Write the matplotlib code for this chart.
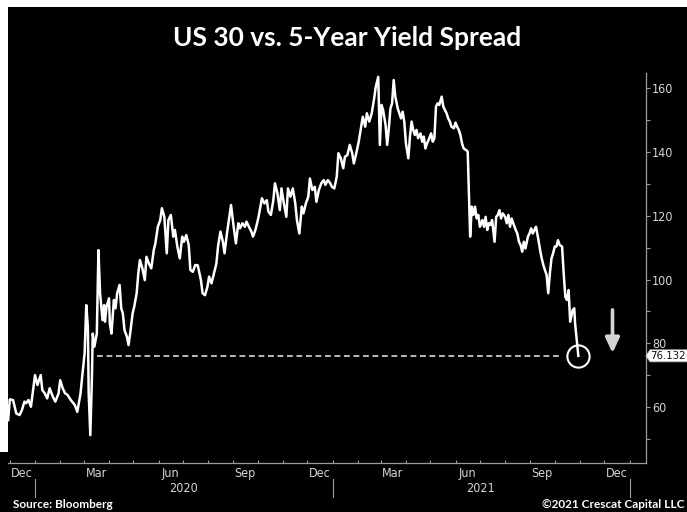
import matplotlib
matplotlib.use("Agg")
import matplotlib.pyplot as plt
import matplotlib.dates as mdates
import matplotlib.transforms as mtransforms
from matplotlib.patches import Polygon, Rectangle
import pandas as pd

# ---- data: US 30y minus 5y Treasury yield spread (bp) ----
dates = [
    "2019-11-29", "2019-12-01", "2019-12-05", "2019-12-09", "2019-12-13", "2019-12-16", "2019-12-19", "2019-12-21", "2019-12-24", "2019-12-27",
    "2020-01-01", "2020-01-04", "2020-01-08", "2020-01-10", "2020-01-13", "2020-01-16", "2020-01-19", "2020-01-23", "2020-01-26", "2020-01-30",
    "2020-02-01", "2020-02-04", "2020-02-07", "2020-02-10", "2020-02-14", "2020-02-19", "2020-02-22", "2020-02-26", "2020-02-28",
    "2020-03-02", "2020-03-04", "2020-03-06", "2020-03-07", "2020-03-09", "2020-03-11", "2020-03-12", "2020-03-14", "2020-03-17", "2020-03-19", "2020-03-21", "2020-03-24", "2020-03-26", "2020-03-27", "2020-03-29",
    "2020-04-01", "2020-04-02", "2020-04-04", "2020-04-07", "2020-04-09", "2020-04-11", "2020-04-14", "2020-04-16", "2020-04-18", "2020-04-20", "2020-04-23", "2020-04-25", "2020-04-27", "2020-04-30",
    "2020-05-02", "2020-05-05", "2020-05-07", "2020-05-09", "2020-05-12", "2020-05-15", "2020-05-17", "2020-05-20", "2020-05-23", "2020-05-26", "2020-05-28", "2020-05-31",
    "2020-06-03", "2020-06-05", "2020-06-08", "2020-06-11", "2020-06-13", "2020-06-16", "2020-06-19", "2020-06-21", "2020-06-24", "2020-06-27", "2020-06-30",
    "2020-07-02", "2020-07-05", "2020-07-08", "2020-07-10", "2020-07-13", "2020-07-16", "2020-07-19", "2020-07-23", "2020-07-25", "2020-07-28", "2020-07-31",
    "2020-08-02", "2020-08-05", "2020-08-08", "2020-08-11", "2020-08-13", "2020-08-16", "2020-08-19", "2020-08-21", "2020-08-24", "2020-08-27", "2020-08-29",
    "2020-09-01", "2020-09-04", "2020-09-07", "2020-09-09", "2020-09-12", "2020-09-15", "2020-09-17", "2020-09-20", "2020-09-23", "2020-09-25", "2020-09-28",
    "2020-10-01", "2020-10-03", "2020-10-06", "2020-10-09", "2020-10-12", "2020-10-14", "2020-10-17", "2020-10-20", "2020-10-22", "2020-10-25", "2020-10-28", "2020-10-30",
    "2020-11-02", "2020-11-05", "2020-11-07", "2020-11-10", "2020-11-13", "2020-11-16", "2020-11-18", "2020-11-21", "2020-11-24", "2020-11-26", "2020-11-29",
    "2020-12-02", "2020-12-04", "2020-12-07", "2020-12-10", "2020-12-12", "2020-12-15", "2020-12-18", "2020-12-21", "2020-12-23", "2020-12-26", "2020-12-29", "2020-12-31",
    "2021-01-03", "2021-01-06", "2021-01-08", "2021-01-11", "2021-01-14", "2021-01-16", "2021-01-19", "2021-01-22", "2021-01-25", "2021-01-27", "2021-01-30",
    "2021-02-02", "2021-02-04", "2021-02-07", "2021-02-10", "2021-02-12", "2021-02-15", "2021-02-18", "2021-02-21", "2021-02-23", "2021-02-26", "2021-02-28",
    "2021-03-02", "2021-03-04", "2021-03-07", "2021-03-09", "2021-03-11", "2021-03-13", "2021-03-15", "2021-03-17", "2021-03-19", "2021-03-22", "2021-03-24", "2021-03-26", "2021-03-28", "2021-03-30",
    "2021-04-01", "2021-04-04", "2021-04-06", "2021-04-08", "2021-04-10", "2021-04-12", "2021-04-14", "2021-04-16", "2021-04-19", "2021-04-21", "2021-04-23", "2021-04-25", "2021-04-27", "2021-04-29",
    "2021-05-02", "2021-05-04", "2021-05-06", "2021-05-08", "2021-05-10", "2021-05-12", "2021-05-15", "2021-05-17", "2021-05-19", "2021-05-21", "2021-05-23", "2021-05-25", "2021-05-27", "2021-05-30",
    "2021-06-01", "2021-06-03", "2021-06-05", "2021-06-07", "2021-06-09", "2021-06-11", "2021-06-14", "2021-06-16", "2021-06-19", "2021-06-21", "2021-06-23", "2021-06-25", "2021-06-27", "2021-06-29",
    "2021-07-01", "2021-07-04", "2021-07-06", "2021-07-08", "2021-07-10", "2021-07-12", "2021-07-14", "2021-07-16", "2021-07-19", "2021-07-21", "2021-07-23", "2021-07-25", "2021-07-27", "2021-07-29",
    "2021-08-01", "2021-08-03", "2021-08-05", "2021-08-07", "2021-08-09", "2021-08-11", "2021-08-14", "2021-08-16", "2021-08-18", "2021-08-20", "2021-08-22", "2021-08-24", "2021-08-26", "2021-08-29", "2021-08-31",
    "2021-09-02", "2021-09-04", "2021-09-06", "2021-09-08", "2021-09-11", "2021-09-13", "2021-09-15", "2021-09-17", "2021-09-19", "2021-09-21", "2021-09-23", "2021-09-25", "2021-09-27", "2021-09-29",
    "2021-10-01", "2021-10-03", "2021-10-05", "2021-10-07", "2021-10-10", "2021-10-12", "2021-10-14", "2021-10-16", "2021-10-18", "2021-10-20", "2021-10-23", "2021-10-25", "2021-10-26", "2021-10-30",
]

spread_bp = [
    56.0, 62.5, 62.3, 58.1, 57.6, 59.2, 61.8, 61.3, 62.3, 60.2,
    70.1, 67.0, 70.1, 65.4, 64.4, 62.8, 66.0, 63.3, 61.8, 64.4,
    68.5, 66.0, 64.4, 63.9, 62.3, 60.7, 58.6, 64.4, 69.6,
    76.9, 92.0, 85.2, 64.4, 51.3, 69.6, 83.1, 79.0, 83.1, 109.2, 95.7, 87.3, 92.0, 86.8, 91.5,
    94.1, 86.3, 83.1, 93.6, 91.0, 95.7, 98.3, 91.0, 89.4, 84.2, 82.1, 79.5, 83.1, 89.4,
    91.5, 95.7, 101.9, 106.1, 103.5, 99.8, 107.1, 105.0, 103.5, 109.2, 111.3, 116.5,
    118.6, 122.3, 119.6, 108.2, 118.6, 120.2, 113.4, 115.5, 110.3, 106.6, 113.4,
    111.8, 113.9, 110.8, 103.0, 102.4, 104.5, 104.5, 99.8, 95.7, 95.1, 97.7,
    100.9, 98.8, 101.9, 105.0, 110.3, 115.0, 111.8, 108.2, 114.4, 119.6, 123.3,
    117.0, 111.3, 117.6, 116.0, 117.6, 116.5, 118.1, 116.5, 115.0, 113.4, 115.5,
    118.6, 121.2, 125.4, 123.8, 124.8, 121.2, 120.2, 124.8, 130.1, 127.0, 121.7, 128.5,
    123.8, 119.6, 128.5, 125.9, 128.5, 123.8, 118.6, 114.4, 122.8, 120.7, 123.8,
    125.9, 131.6, 128.0, 129.0, 124.3, 128.0, 130.1, 131.1, 129.6, 131.1, 130.1, 129.0,
    128.5, 132.2, 139.5, 137.9, 134.8, 138.4, 138.9, 142.1, 139.5, 136.3, 139.5,
    143.1, 146.2, 150.9, 147.8, 152.0, 149.4, 152.0, 156.7, 160.3, 163.4, 142.1,
    154.6, 153.0, 148.3, 142.1, 147.3, 153.5, 155.1, 162.4, 157.2, 153.5, 152.0, 150.4, 152.5, 149.4,
    142.6, 137.9, 144.7, 149.4, 146.8, 145.2, 146.8, 144.2, 145.7, 143.1, 144.7, 141.0, 142.6, 143.7,
    145.7, 143.1, 144.2, 154.1, 155.1, 154.6, 157.2, 154.1, 153.0, 152.0, 150.4, 149.4, 147.8, 147.3,
    149.1, 147.8, 146.8, 145.2, 142.6, 141.0, 140.5, 140.0, 113.4, 122.8, 120.2, 122.8, 119.1, 120.2,
    116.5, 118.6, 116.5, 119.6, 115.5, 117.6, 117.1, 118.6, 111.8, 119.6, 120.2, 121.7, 119.1, 120.7,
    119.6, 117.6, 120.2, 116.5, 119.1, 117.6, 115.5, 114.4, 111.8, 110.8, 108.7, 111.8, 109.7, 113.4, 114.4,
    116.0, 114.4, 115.5, 116.5, 112.3, 109.2, 106.6, 104.5, 103.0, 101.4, 95.7, 101.9, 106.6, 108.2,
    110.3, 110.3, 112.3, 110.8, 110.3, 101.9, 94.6, 93.6, 96.7, 86.8, 90.4, 91.0, 86.3, 76.132,
]

last_value = 76.132
level_line_start = "2020-03-17"
level_line_end = "2021-10-08"

y_major = [60, 80, 100, 120, 140, 160]
y_minor = [50, 70, 90, 110, 130, 150]
month_labels = ["Dec", "Mar", "Jun", "Sep", "Dec", "Mar", "Jun", "Sep", "Dec"]
month_label_dates = ["2019-12-16", "2020-03-16", "2020-06-15", "2020-09-15", "2020-12-16",
                     "2021-03-16", "2021-06-15", "2021-09-15", "2021-12-16"]
year_labels = ["2020", "2021"]
year_label_dates = ["2020-07-01", "2021-07-02"]
year_bounds = ["2020-01-01", "2021-01-01", "2022-01-01"]

title = "US 30 vs. 5-Year Yield Spread"
source_note = "Source: Bloomberg"
credit_note = "\u00a92021 Crescat Capital LLC"

# ---- figure layout (pixel based) ----
W, H = 687, 512
BG = "black"
AXIS_GREY = "#9c9c9c"
LABEL_GREY = "#d6d6d6"
NARROW = dict(family="DejaVu Sans", fontstretch="condensed")
BOLD_SANS = ["Lato", "DejaVu Sans"]


def fx(px):
    return px / W


def fy(py):
    return 1 - py / H


fig = plt.figure(figsize=(W / 100, H / 100), dpi=100, facecolor=BG)

# thin light frame along the top and left edges of the page
fig.patches.append(Rectangle((0, fy(7)), 1, 1 - fy(7), transform=fig.transFigure,
                             facecolor="white", edgecolor="none", zorder=0))
fig.patches.append(Rectangle((0, fy(452)), fx(8), fy(0) - fy(452), transform=fig.transFigure,
                             facecolor="white", edgecolor="none", zorder=0))

left_px, right_px, top_px, bottom_px = 8, 646, 73, 463
ax = fig.add_axes([fx(left_px), fy(bottom_px), fx(right_px) - fx(left_px), fy(top_px) - fy(bottom_px)])
ax.set_facecolor(BG)

x = pd.to_datetime(dates)
ax.plot(x, spread_bp, color="white", lw=1.8, solid_joinstyle="round", zorder=3)

jan2020 = mdates.date2num(pd.Timestamp("2020-01-01"))
ax.set_xlim(jan2020 - 33.2, jan2020 + 751.2)
ax.set_ylim(42.6, 164.6)
ax_h_px = bottom_px - top_px

# spines
for side in ("left", "top"):
    ax.spines[side].set_visible(False)
for side in ("right", "bottom"):
    ax.spines[side].set_color(AXIS_GREY)
    ax.spines[side].set_linewidth(0.9)

# y axis on the right
ax.yaxis.tick_right()
ax.set_yticks(y_major)
ax.set_yticklabels([str(v) for v in y_major], **NARROW)
ax.set_yticks(y_minor, minor=True)
ax.tick_params(axis="y", which="both", direction="out", length=3, width=0.8,
               color=AXIS_GREY, labelcolor=LABEL_GREY, labelsize=9, pad=1.5)

# x axis: month boundary ticks, quarter-month labels
month_starts = pd.date_range("2019-12-01", "2022-01-01", freq="MS")
ax.set_xticks(month_starts)
ax.set_xticklabels([""] * len(month_starts))
ax.set_xticks(pd.to_datetime(month_label_dates), minor=True)
ax.set_xticklabels(month_labels, minor=True, **NARROW)
ax.tick_params(axis="x", which="major", direction="in", length=2.5, width=0.8, color=AXIS_GREY)
ax.tick_params(axis="x", which="minor", length=0, labelcolor=LABEL_GREY, labelsize=9, pad=3)

xdata_yaxes = mtransforms.blended_transform_factory(ax.transData, ax.transAxes)
for d in year_bounds:
    ax.plot([pd.Timestamp(d)] * 2, [(bottom_px - 479) / ax_h_px, (bottom_px - 497) / ax_h_px],
            transform=xdata_yaxes, clip_on=False, color=AXIS_GREY, lw=0.8)
for lab, d in zip(year_labels, year_label_dates):
    ax.text(pd.Timestamp(d), (bottom_px - 489) / ax_h_px, lab, transform=xdata_yaxes,
            ha="center", va="center", color=LABEL_GREY, fontsize=9, **NARROW)

# level of the latest reading carried back to spring 2020
ax.hlines(last_value, pd.Timestamp(level_line_start), pd.Timestamp(level_line_end),
          colors="#d8d8d8", lw=1.2, linestyles=(0, (3.5, 2.2)), zorder=2)

# circle around the latest reading
ax.plot(x[-1], spread_bp[-1], marker="o", ms=16, mfc="none", mec="white", mew=1.5, zorder=4)

# downward arrow
arrow_x = pd.Timestamp("2021-12-11")
ax.annotate("", xy=(arrow_x, 77.0), xytext=(arrow_x, 90.5),
            arrowprops=dict(arrowstyle="-|>,head_width=0.42,head_length=0.9",
                            lw=2.6, color="#d4d4d4", mutation_scale=10,
                            shrinkA=0, shrinkB=0))

# last value tag on the right axis
xaxes_ydata = mtransforms.blended_transform_factory(ax.transAxes, ax.transData)
ax_w_px = right_px - left_px
half_h = 6.0 / (ax_h_px / (164.6 - 42.6))
tip = 4 / ax_w_px
tag = Polygon([(1.0, last_value), (1 + tip, last_value + half_h), (1 + 50 / ax_w_px, last_value + half_h),
               (1 + 50 / ax_w_px, last_value - half_h), (1 + tip, last_value - half_h)],
              closed=True, transform=xaxes_ydata, clip_on=False,
              facecolor="white", edgecolor="#bbbbbb", lw=0.6, zorder=5)
ax.add_patch(tag)
ax.text(1 + 4.5 / ax_w_px, last_value, f"{last_value:.3f}", transform=xaxes_ydata,
        ha="left", va="center", color="#111111", fontsize=8.2, zorder=6, clip_on=False, **NARROW)

# title and notes
fig.text(fx(347.5), fy(38), title, ha="center", va="center", color="white",
         fontsize=19, fontweight="bold", family=BOLD_SANS)
fig.text(fx(13), fy(505), source_note, ha="left", va="center", color="white",
         fontsize=8.5, fontweight="bold", family=BOLD_SANS)
fig.text(fx(685), fy(505), credit_note, ha="right", va="center", color="white",
         fontsize=8.5, fontweight="bold", family=BOLD_SANS)

fig.savefig("out.png", dpi=100, facecolor=BG)
